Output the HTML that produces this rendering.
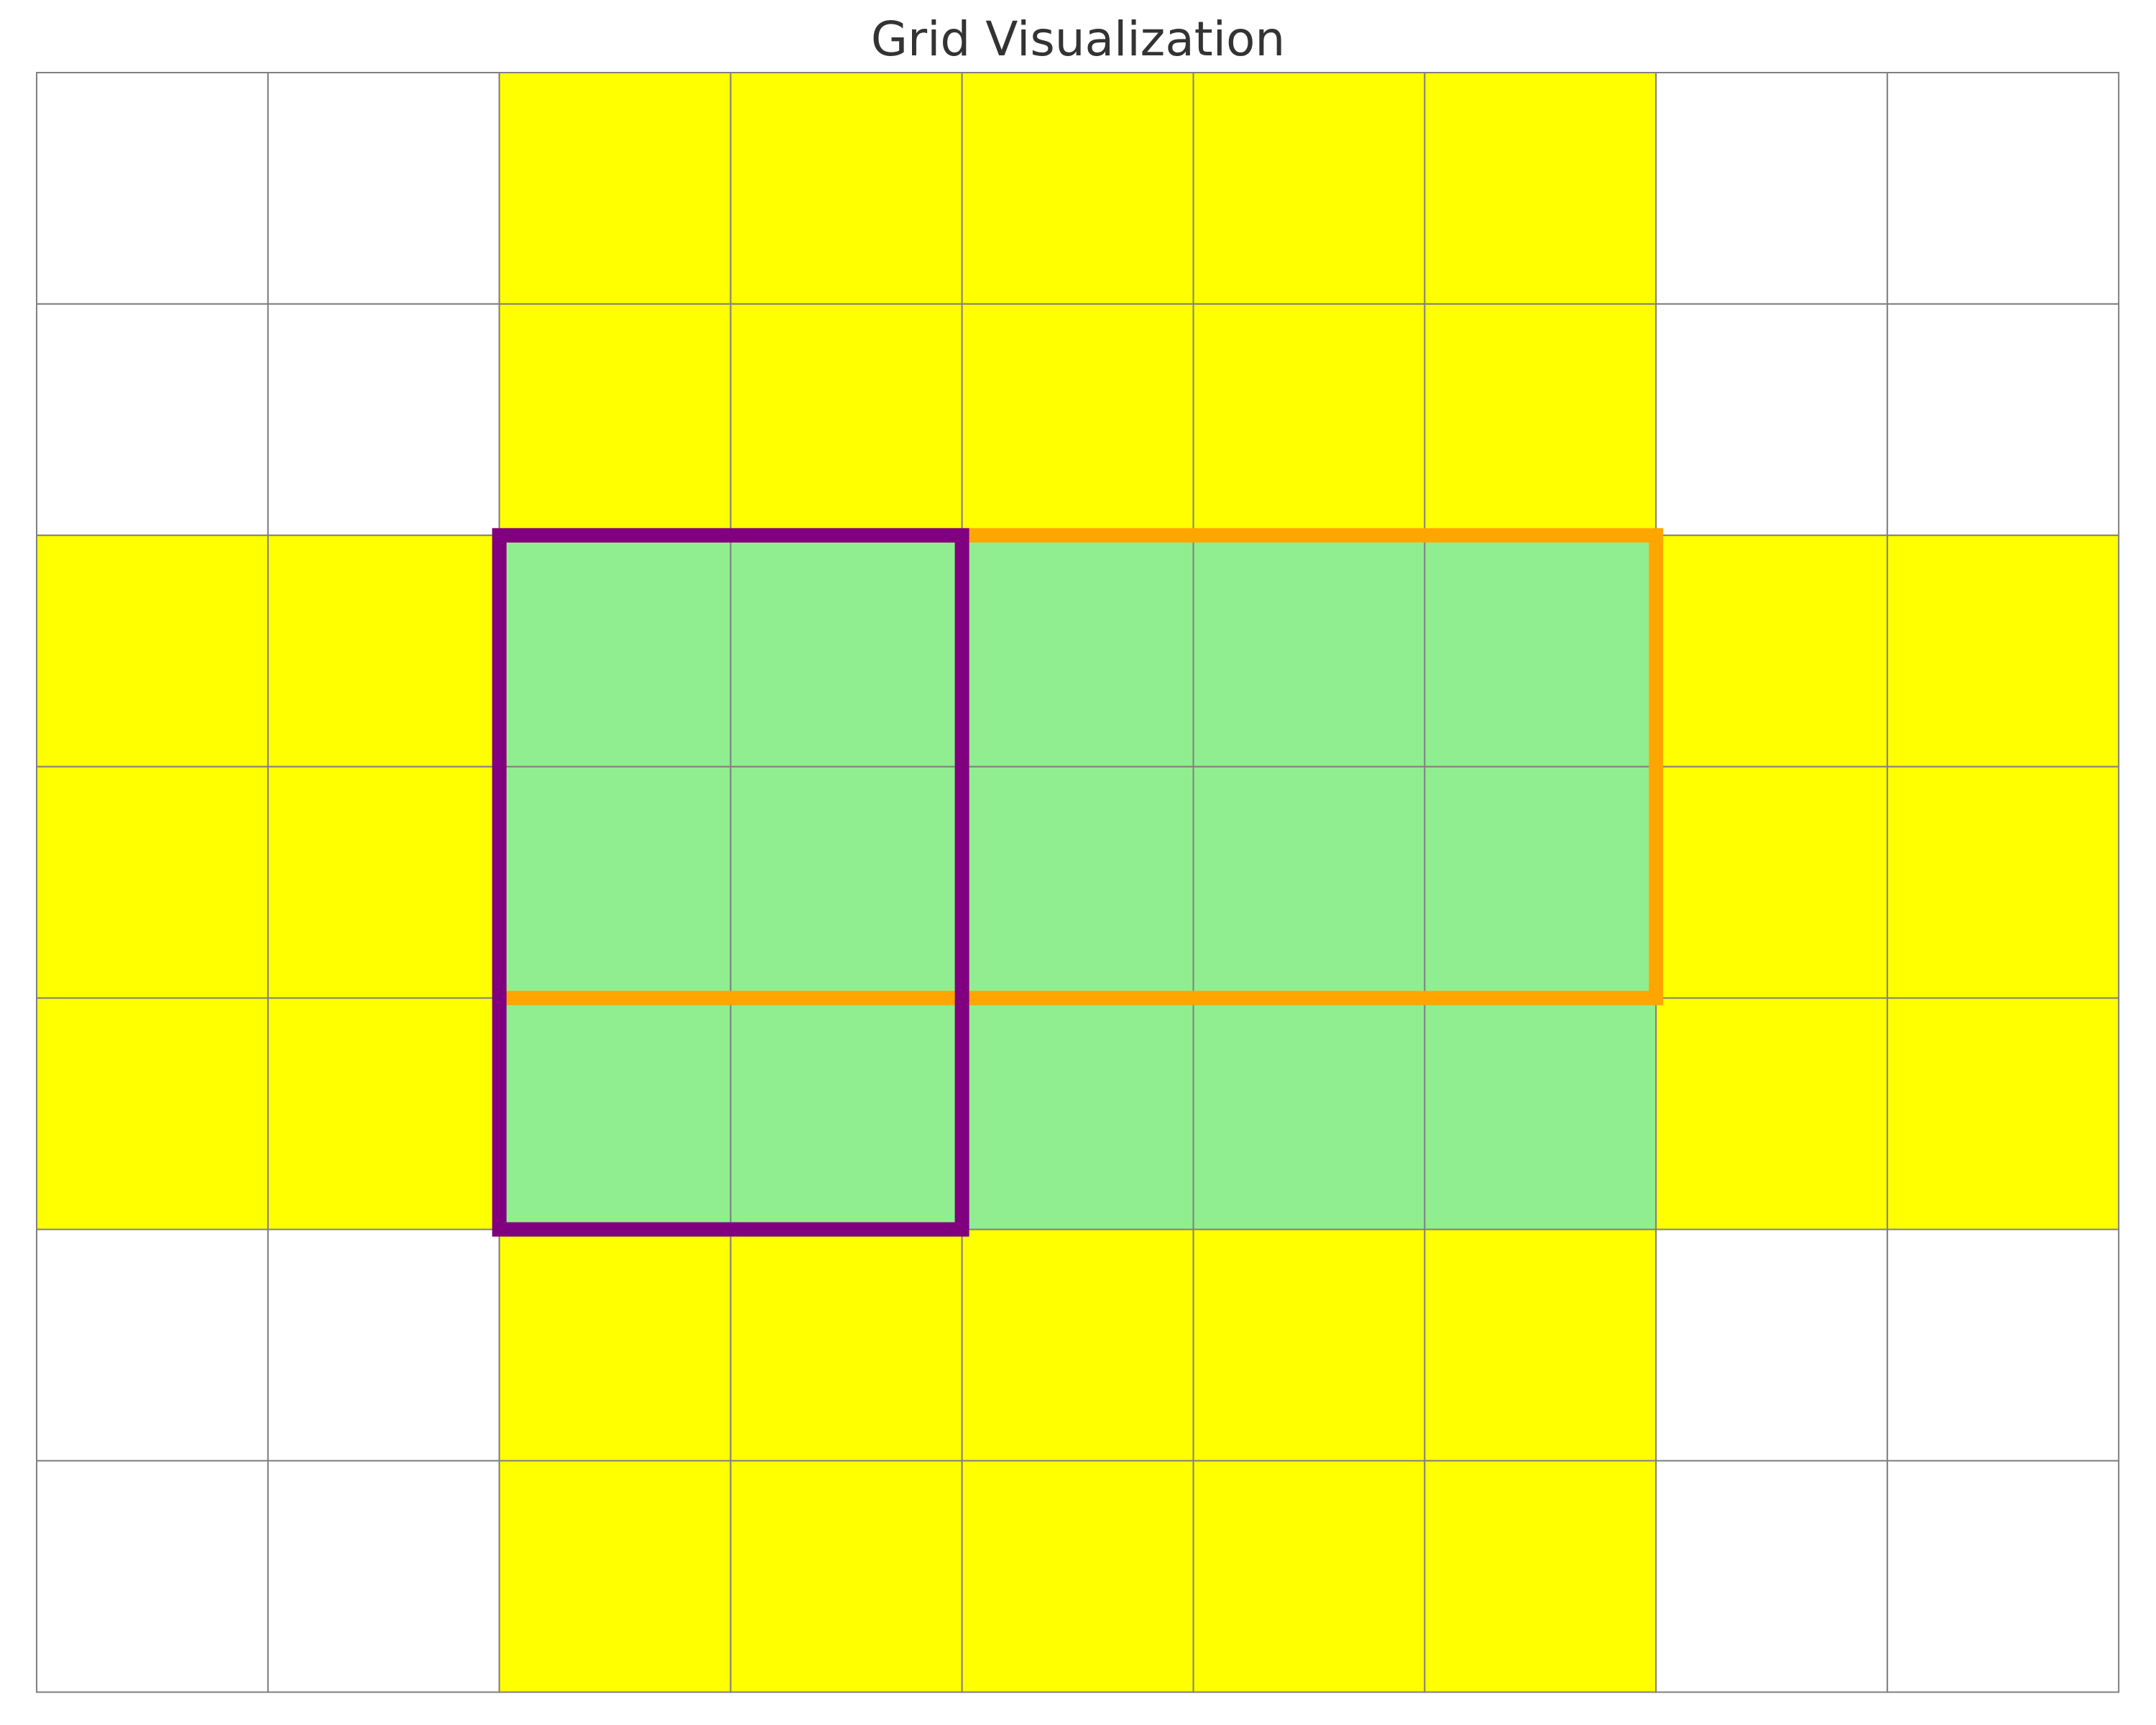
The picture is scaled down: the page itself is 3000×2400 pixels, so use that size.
<!DOCTYPE html>
<html><head><meta charset="utf-8"><style>
html,body{margin:0;padding:0;background:#fff;}
svg{display:block;}
</style></head><body>
<svg id="chart" width="3000" height="2400" xmlns="http://www.w3.org/2000/svg">
<text x="1500" y="77" text-anchor="middle" font-family="DejaVu Sans, sans-serif" font-size="66" fill="#333333">Grid Visualization</text>
<g id="cells"></g>
<g id="rects"></g>
</svg>
<script>
// 0 = white, 1 = yellow, 2 = light green
const gridValues = [
  [0,0,1,1,1,1,1,0,0],
  [0,0,1,1,1,1,1,0,0],
  [1,1,2,2,2,2,2,1,1],
  [1,1,2,2,2,2,2,1,1],
  [1,1,2,2,2,2,2,1,1],
  [0,0,1,1,1,1,1,0,0],
  [0,0,1,1,1,1,1,0,0]
];
const cellColors = ['#ffffff', '#ffff00', '#90ee90'];
// rectangles: [col0, row0, col1, row1]
const orangeRect = [2, 2, 7, 4];
const purpleRect = [2, 2, 4, 5];

const gridLeft = 51, gridTop = 101, cellSize = 321.9;
const SVGNS = 'http://www.w3.org/2000/svg';
function xs(c){ return gridLeft + c * cellSize; }
function ys(r){ return gridTop + r * cellSize; }

const cg = document.getElementById('cells');
gridValues.forEach((row, r) => {
  row.forEach((v, c) => {
    const el = document.createElementNS(SVGNS, 'rect');
    
    
    el.setAttribute('x', xs(c));
    el.setAttribute('y', ys(r));
    el.setAttribute('width', cellSize);
    el.setAttribute('height', cellSize);
    el.setAttribute('fill', cellColors[v]);
    el.setAttribute('stroke', '#808080');
    el.setAttribute('stroke-width', '2');
    cg.appendChild(el);
  });
});

const rg = document.getElementById('rects');
function drawRect(rc, color, name){
  const el = document.createElementNS(SVGNS, 'rect');
  
  
  el.setAttribute('x', xs(rc[0]));
  el.setAttribute('y', ys(rc[1]));
  el.setAttribute('width', xs(rc[2]) - xs(rc[0]));
  el.setAttribute('height', ys(rc[3]) - ys(rc[1]));
  el.setAttribute('fill', 'none');
  el.setAttribute('stroke', color);
  el.setAttribute('stroke-width', '20');
  rg.appendChild(el);
}
drawRect(orangeRect, '#ffa500', 'orange-rectangle');
drawRect(purpleRect, '#800080', 'purple-rectangle');
</script>
</body></html>
